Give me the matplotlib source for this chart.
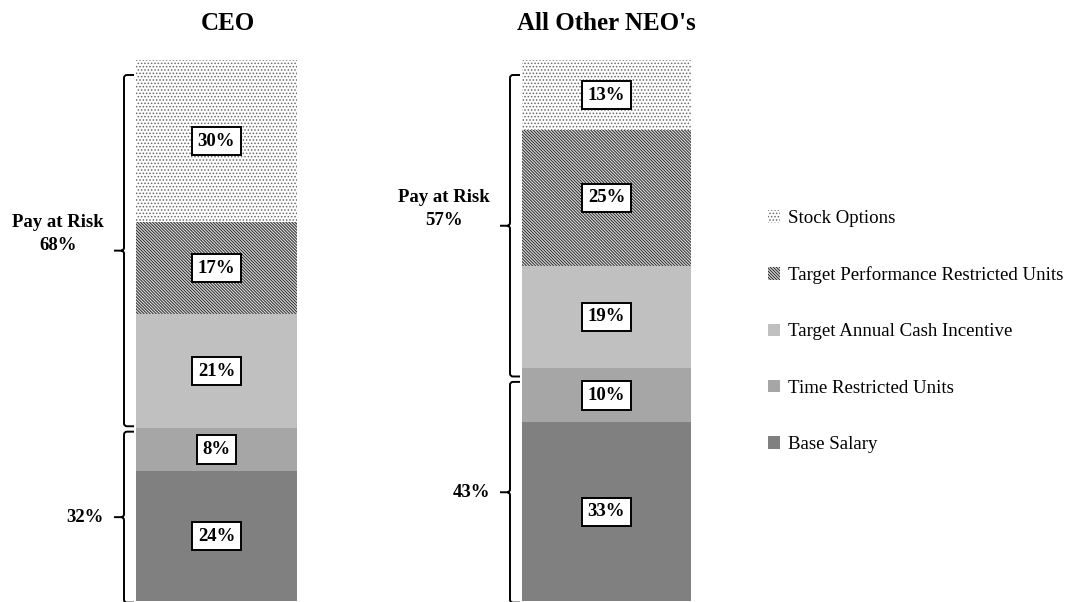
import matplotlib
matplotlib.use("Agg")
import matplotlib.pyplot as plt
from matplotlib.path import Path
from matplotlib.patches import PathPatch

# ---------------- data ----------------
groups = ["CEO", "All Other NEO's"]
components = ["Base Salary", "Time Restricted Units", "Target Annual Cash Incentive",
              "Target Performance Restricted Units", "Stock Options"]
ceo_values = [24, 8, 21, 17, 30]
neo_values = [33, 10, 19, 25, 13]
fixed_pay = [32, 43]
pay_at_risk = [68, 57]

# ---------------- styles ----------------
plt.rcParams['font.family'] = ['Liberation Serif', 'DejaVu Serif']
plt.rcParams['hatch.linewidth'] = 0.7
face = ['#808080', '#a6a6a6', '#c0c0c0', '#dcdcdc', '#ffffff']
hatch = [None, None, None, '\\' * 11, '.' * 5]
hatch_col = ['#808080', '#a6a6a6', '#c0c0c0', '#2a2a2a', '#6a6a6a']

W, H = 1070, 602
fig = plt.figure(figsize=(W / 100, H / 100), dpi=100)
# axes spans bar area vertically (pixel 60 to 601 from top)
ax = fig.add_axes([0, 1 / H, 1, 541 / H])
PX_X = 390.0          # pixels per x unit
x0_px = 216.5         # pixel of CEO bar center
ax.set_xlim(-x0_px / PX_X, (W - x0_px) / PX_X)
ax.set_ylim(0, 100)
ax.axis('off')
PX_Y = 541 / 100.0    # pixels per %

positions = [0, 1]
widths = [161 / PX_X, 169 / PX_X]
data = [ceo_values, neo_values]

handles = []
for k, comp in enumerate(components):
    vals = [d[k] for d in data]
    bottoms = [sum(d[:k]) for d in data]
    bc = ax.bar(positions, vals, width=widths, bottom=bottoms, color=face[k],
                edgecolor=hatch_col[k], linewidth=0, hatch=hatch[k], label=comp)
    handles.append(bc)
    for i in range(2):
        ax.text(positions[i], bottoms[i] + vals[i] / 2, f"{vals[i]}%",
                ha='center', va='center', fontsize=13.5, fontweight='bold',
                bbox=dict(boxstyle='square,pad=0.3', fc='white', ec='black', lw=1.4))


def brace(ax, x, y_top, y_bot, lw=1.4):
    dx = 1 / PX_X
    dy = 1 / PX_Y
    w = 10 * dx
    r_x = 3 * dx
    r_y = 3 * dy
    ym = (y_top + y_bot) / 2
    verts = [
        (x + w, y_top), (x + r_x, y_top), (x, y_top), (x, y_top - r_y),
        (x, ym + r_y), (x, ym), (x - r_x, ym), (x - w, ym),
        (x - r_x, ym), (x, ym), (x, ym - r_y),
        (x, y_bot + r_y), (x, y_bot), (x + r_x, y_bot), (x + w, y_bot),
    ]
    codes = [Path.MOVETO, Path.LINETO, Path.CURVE3, Path.CURVE3,
             Path.LINETO, Path.CURVE3, Path.CURVE3, Path.LINETO,
             Path.MOVETO, Path.CURVE3, Path.CURVE3,
             Path.LINETO, Path.CURVE3, Path.CURVE3, Path.LINETO]
    ax.add_patch(PathPatch(Path(verts, codes), fc='none', ec='black', lw=lw,
                           clip_on=False, capstyle='butt'))
    return ym


top_y = 100 - 15 / PX_Y
for i in range(2):
    bx = positions[i] - widths[i] / 2 - 12 / PX_X
    split = fixed_pay[i] - (0.2 if i == 0 else 2.0)
    ym_top = brace(ax, bx, top_y, split + 0.5)
    ym_bot = brace(ax, bx, split - 0.5, -0.3)
    tx = bx - 20 / PX_X
    ax.text(tx, ym_top + 17 / PX_Y, f"Pay at Risk\n{pay_at_risk[i]}%", ha='right',
            va='center', multialignment='center', fontsize=13.5, fontweight='bold',
            linespacing=1.45)
    ax.text(tx, ym_bot, f"{fixed_pay[i]}%", ha='right', va='center',
            fontsize=13.5, fontweight='bold')

title_px = [(228, 23), (606, 23)]
for g, (tx, ty) in zip(groups, title_px):
    fig.text(tx / W, 1 - ty / H, g, ha='center', va='center', fontsize=18,
             fontweight='bold')

leg = fig.legend(handles[::-1], components[::-1], loc='upper left',
                 bbox_to_anchor=(768 / W, 1 - 210 / H), frameon=False,
                 fontsize=13.6, handlelength=0.65, handleheight=0.65,
                 handletextpad=0.4, labelspacing=2.08, borderpad=0,
                 borderaxespad=0)

fig.savefig('out.png', dpi=100)
